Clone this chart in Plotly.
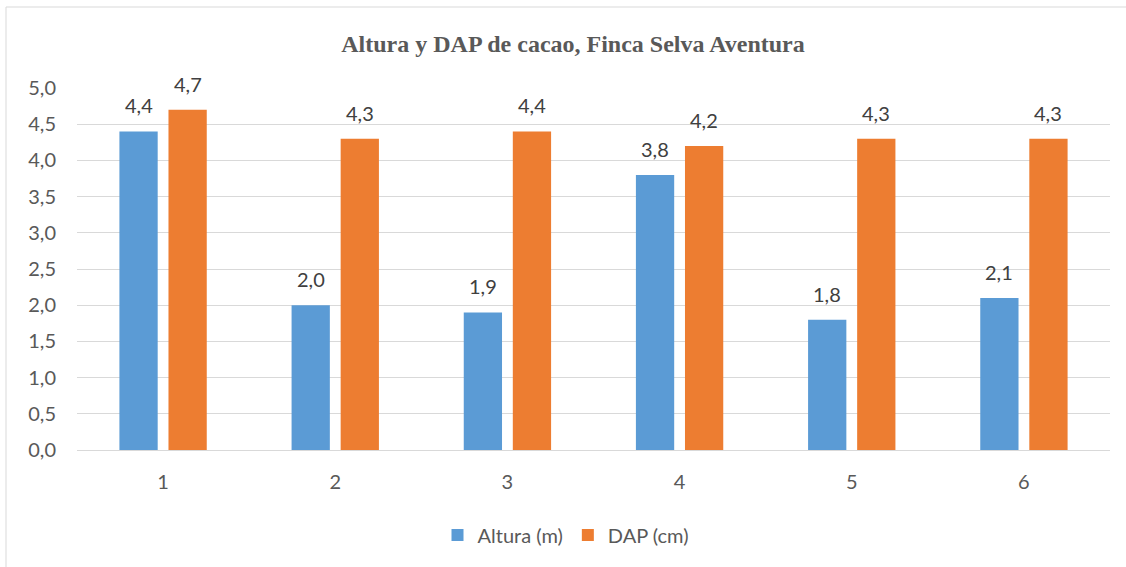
import plotly.graph_objects as go

categories = ["1", "2", "3", "4", "5", "6"]
altura = [4.4, 2.0, 1.9, 3.8, 1.8, 2.1]
dap = [4.7, 4.3, 4.4, 4.2, 4.3, 4.3]
series_names = ["Altura (m)", "DAP (cm)"]
title_text = "Altura y DAP de cacao, Finca Selva Aventura"

BLUE = "#5B9BD5"
ORANGE = "#ED7D31"
GRID = "#D9D9D9"
TXT = "#595959"
FONT = "Lato, Carlito, 'Liberation Sans', sans-serif"
FS = 20

fig = go.Figure()
fig.add_trace(go.Bar(x=categories, y=altura, name=series_names[0],
                     marker=dict(color=BLUE, line=dict(width=0))))
fig.add_trace(go.Bar(x=categories, y=dap, name=series_names[1],
                     marker=dict(color=ORANGE, line=dict(width=0))))

bargap = 0.43
slot = (1 - bargap) / 2
plot_w = 1126 - 77 - 16
cat_px = plot_w / len(categories)
shift = slot * cat_px / 2

annotations = []
for vals, sgn in ((altura, -1), (dap, 1)):
    for i, v in enumerate(vals):
        annotations.append(dict(
            x=i, y=v, xref="x", yref="y", text=f"{v:.1f}".replace(".", ","),
            showarrow=False, yanchor="bottom", xanchor="center",
            xshift=sgn * shift, yshift=12,
            font=dict(family=FONT, size=FS, color="#404040")))

fig.update_layout(
    width=1126, height=567,
    margin=dict(l=77, r=16, t=88, b=117),
    paper_bgcolor="white", plot_bgcolor="white",
    barmode="group", bargap=bargap, bargroupgap=0.22,
    separators=",.",
    title=dict(text="<b>" + title_text + "</b>", x=573 / 1126, xref="container",
               xanchor="center", y=1 - 44 / 567, yref="container", yanchor="middle",
               font=dict(family="'Liberation Serif', 'Times New Roman', serif",
                         size=24, color=TXT)),
    font=dict(family=FONT, size=FS, color=TXT),
    showlegend=True,
    legend=dict(orientation="h", x=(566 - 77) / plot_w, xanchor="center",
                y=-0.235, yanchor="middle", itemwidth=30,
                font=dict(family=FONT, size=FS, color=TXT),
                traceorder="normal"),
    annotations=annotations,
    shapes=[dict(type="rect", xref="paper", yref="paper",
                 x0=(6 - 77) / plot_w, x1=(1130 - 77) / plot_w,
                 y0=(450 - 580) / 362, y1=(450 - 7) / 362,
                 line=dict(color=GRID, width=1), fillcolor="rgba(0,0,0,0)",
                 layer="below")],
)
fig.update_xaxes(range=[-0.5, 5.5], showgrid=False, showline=True, linecolor=GRID,
                 linewidth=1, ticks="", ticklabelstandoff=14,
                 tickfont=dict(family=FONT, size=FS, color=TXT))
fig.update_yaxes(range=[0, 5], dtick=0.5, tick0=0, tickformat=".1f",
                 showgrid=True, gridcolor=GRID, gridwidth=1,
                 zeroline=True, zerolinecolor=GRID, zerolinewidth=1,
                 showline=False, ticks="", ticklabelstandoff=20,
                 tickfont=dict(family=FONT, size=FS, color=TXT))

fig.write_html("out.html", config={"displayModeBar": False},
               post_script="document.body.style.margin='0';document.body.style.padding='0';")
